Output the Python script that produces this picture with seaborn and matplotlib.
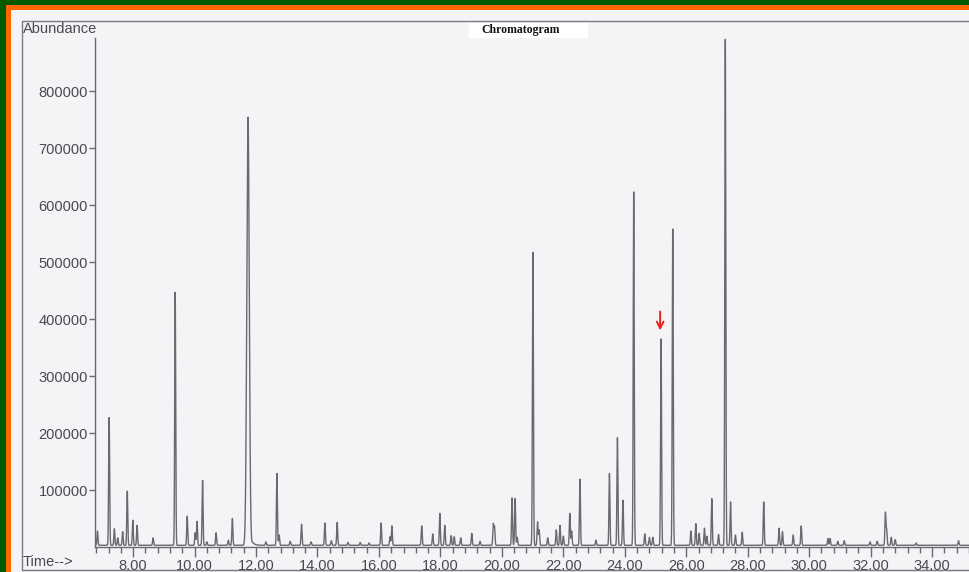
import numpy as np
import pandas as pd
import matplotlib.pyplot as plt
import seaborn as sns
from matplotlib.ticker import MultipleLocator, FixedLocator, FormatStrFormatter
from matplotlib.patches import Rectangle
from matplotlib.lines import Line2D

# peak retention times (min) and apex abundances
peak_times = [6.84, 7.22, 7.39, 7.50, 7.66, 7.81, 7.99, 8.13, 8.65, 9.37,
              9.76, 10.02, 10.08, 10.26, 10.40, 10.70, 11.10, 11.23, 11.74, 12.32,
              12.68, 12.75, 13.11, 13.48, 13.79, 14.24, 14.45, 14.64, 14.99, 15.39,
              15.68, 16.07, 16.36, 16.42, 17.39, 17.75, 17.98, 18.14, 18.35, 18.45,
              18.66, 19.02, 19.29, 19.72, 19.76, 20.33, 20.43, 20.50, 21.01, 21.16,
              21.21, 21.49, 21.77, 21.89, 22.00, 22.21, 22.27, 22.54, 23.06, 23.50,
              23.76, 23.94, 24.29, 24.65, 24.80, 24.91, 25.18, 25.56, 26.15, 26.31,
              26.42, 26.59, 26.67, 26.83, 27.05, 27.27, 27.44, 27.60, 27.82, 28.52,
              29.02, 29.13, 29.48, 29.74, 30.61, 30.68, 30.93, 31.14, 31.98, 32.21,
              32.48, 32.52, 32.67, 32.80, 33.48, 34.86]
peak_heights = [28000, 227000, 32000, 16000, 27000, 98000, 47000, 38000, 16000, 447000,
                54000, 25000, 45000, 117000, 9000, 25000, 12000, 50000, 754000, 9000,
                129000, 21000, 10000, 40000, 9000, 42000, 11000, 43000, 8000, 8000,
                7000, 42000, 18000, 37000, 37000, 23000, 59000, 38000, 20000, 18000,
                16000, 24000, 10000, 40000, 35000, 86000, 85000, 17000, 517000, 44000,
                30000, 16000, 30000, 38000, 19000, 59000, 28000, 119000, 12000, 129000,
                192000, 82000, 623000, 23000, 17000, 17000, 365000, 558000, 28000, 41000,
                24000, 33000, 19000, 85000, 22000, 891000, 79000, 21000, 26000, 79000,
                33000, 27000, 21000, 37000, 15000, 15000, 10000, 11000, 9000, 10000,
                60000, 30000, 17000, 13000, 7000, 11000]
broad_peaks = [11.74]
marked_peak = 25.18
baseline = 3000

x_ticks = [8, 10, 12, 14, 16, 18, 20, 22, 24, 26, 28, 30, 32, 34]
y_ticks = [100000, 200000, 300000, 400000, 500000, 600000, 700000, 800000]

# build the trace as a sum of narrow peaks on a flat baseline
t = np.linspace(6.80, 35.25, 30000)
signal = np.full_like(t, baseline, dtype=float)
for rt, h in zip(peak_times, peak_heights):
    sig = 0.040 if rt in broad_peaks else 0.016
    d = t - rt
    shape = np.exp(-0.5 * (d / sig) ** 2)
    if rt in broad_peaks:
        shape = np.maximum(shape, np.where(d > 0, np.exp(-d / 0.07) * 0.06, 0))
    signal += (h - baseline) * shape
df = pd.DataFrame({"time": t, "abundance": signal})

sns.set_theme(style="white")
plt.rcParams['font.family'] = ['Liberation Sans', 'DejaVu Sans']

W, H = 969, 572
fig = plt.figure(figsize=(W / 100, H / 100), dpi=100)
fig.patch.set_facecolor('#005a00')
fig.patches.append(Rectangle((6 / W, 0), 1, (H - 5) / H, transform=fig.transFigure,
                             facecolor='#ff6600', edgecolor='none', zorder=-3))
fig.patches.append(Rectangle((11 / W, 0), 1, (H - 10) / H, transform=fig.transFigure,
                             facecolor='#f4f4f7', edgecolor='none', zorder=-2))

# page frame of the printout
frame_col = '#7a7a80'
for xs, ys in [([22 / W, 1], [1 - 21 / H] * 2),
               ([22 / W] * 2, [1 - 21 / H, 1 - 570 / H]),
               ([22 / W, 1], [1 - 570 / H] * 2)]:
    fig.lines.append(Line2D(xs, ys, transform=fig.transFigure, color=frame_col, lw=1, zorder=-1))

ax = fig.add_axes([95 / W, 1 - 547 / H, (W - 95) / W, (547 - 38) / H])
ax.set_facecolor('none')
sns.lineplot(data=df, x="time", y="abundance", ax=ax, color='#6a6a6e',
             linewidth=1.0, estimator=None, sort=False)

ax.set_xlim(6.76, 35.20)
ax.set_ylim(0, 893000)
ax.set_xlabel("")
ax.set_ylabel("")
for s in ['top', 'right']:
    ax.spines[s].set_visible(False)
for s in ['left', 'bottom']:
    ax.spines[s].set_color('#6a6a6e')
    ax.spines[s].set_linewidth(1.0)

ax.xaxis.set_major_locator(FixedLocator(x_ticks))
ax.xaxis.set_major_formatter(FormatStrFormatter('%.2f'))
ax.xaxis.set_minor_locator(MultipleLocator(0.4))
ax.yaxis.set_major_locator(FixedLocator(y_ticks))
ax.yaxis.set_major_formatter(FormatStrFormatter('%d'))
ax.tick_params(axis='x', which='major', direction='out', length=7, width=1,
               colors='#6a6a6e', labelcolor='#4a4a4e', labelsize=10.5, pad=2, bottom=True)
ax.tick_params(axis='x', which='minor', direction='out', length=4, width=1,
               colors='#6a6a6e', bottom=True)
ax.tick_params(axis='y', direction='out', length=4, width=1, colors='#6a6a6e',
               labelcolor='#4a4a4e', labelsize=10.5, pad=1, left=True)

fig.text(23 / W, 1 - 29 / H, 'Abundance', ha='left', va='center', fontsize=10.5, color='#4a4a4e')
fig.text(23 / W, 1 - 562 / H, 'Time-->', ha='left', va='center', fontsize=10.5, color='#4a4a4e')

fig.patches.append(Rectangle((469 / W, 1 - 38 / H), 119 / W, 15 / H, transform=fig.transFigure,
                             facecolor='white', edgecolor='none', zorder=1))
fig.text(521 / W, 1 - 30.5 / H, 'Chromatogram', ha='center', va='center', fontsize=8.5,
         weight='bold', family=['Liberation Serif', 'DejaVu Serif'], color='#111111', zorder=2)

ax.annotate('', xy=(marked_peak - 0.03, 375000), xytext=(marked_peak - 0.03, 418000),
            arrowprops=dict(arrowstyle='->', color='#e3241c', lw=1.4))

fig.savefig('out.png', dpi=100, facecolor=fig.get_facecolor())
